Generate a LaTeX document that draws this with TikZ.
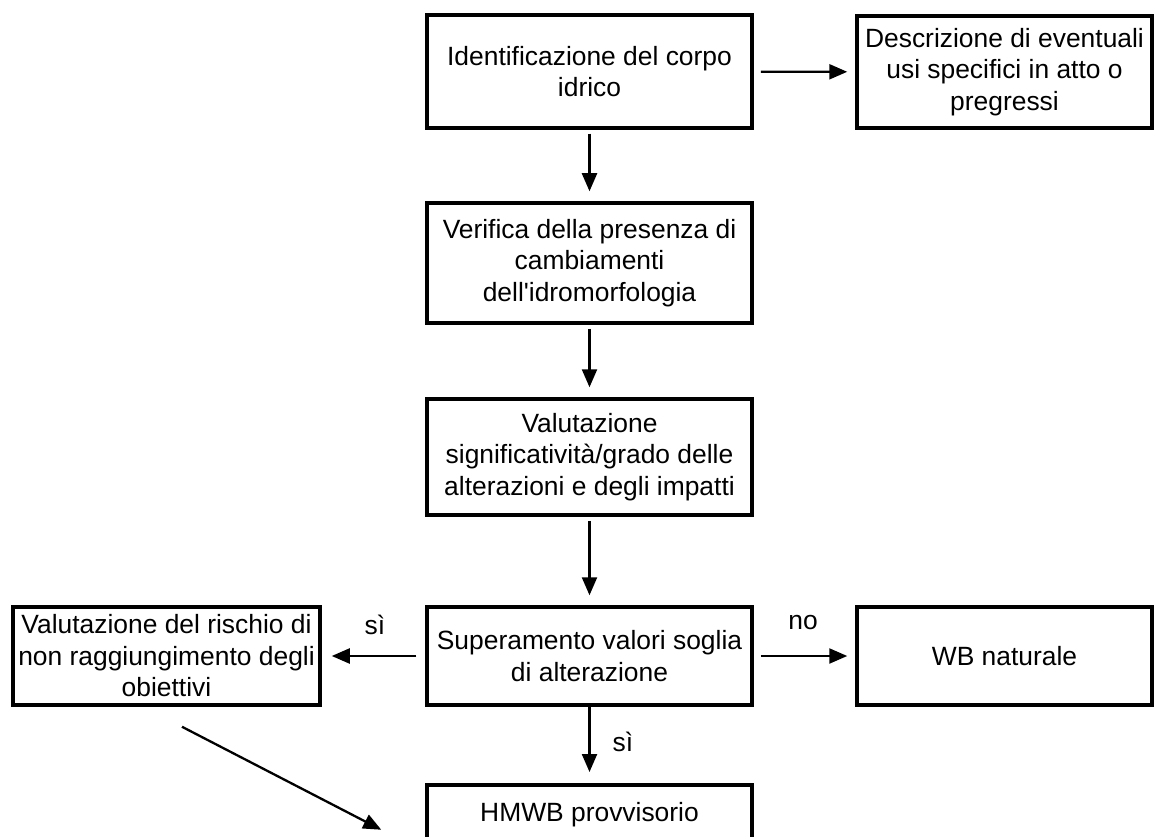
\documentclass[tikz,border=0pt]{standalone}
\usepackage{fontspec}
\setmainfont{Liberation Sans}
\usetikzlibrary{arrows.meta}
\begin{document}
\begin{tikzpicture}[x=1pt,y=-1pt,
  box/.style={draw, line width=3.5pt, align=center, inner sep=0pt,
    font=\fontsize{26.4}{31.5}\selectfont},
  lbl/.style={font=\fontsize{26.4}{31.5}\selectfont, inner sep=0pt},
  arr/.style={line width=2.3pt, -{Triangle[length=18pt,width=15pt]}},
  varr/.style={arr, shorten <=4pt, shorten >=10pt},
  harr/.style={arr, shorten <=7pt, shorten >=8pt}]
  \useasboundingbox (0,0) rectangle (1154,837);
  \clip (0,0) rectangle (1154,837);

  % process boxes
  \node[box, minimum width=325pt, minimum height=113pt] (ident) at (589.5,71.5)
    {Identificazione del corpo\\idrico};
  \node[box, minimum width=295pt, minimum height=112pt] (usi) at (1004.5,72)
    {Descrizione di eventuali\\usi specifici in atto o\\pregressi};
  \node[box, minimum width=325pt, minimum height=120pt] (verif) at (589.5,263)
    {Verifica della presenza di\\cambiamenti\\dell\textquotesingle idromorfologia};
  \node[box, minimum width=325pt, minimum height=116pt] (valut) at (589.5,457)
    {Valutazione\\significatività/grado delle\\alterazioni e degli impatti};
  \node[box, minimum width=325pt, minimum height=98pt] (soglia) at (589.5,656)
    {Superamento valori soglia\\di alterazione};
  \node[box, minimum width=295pt, minimum height=98pt] (wb) at (1004.5,656)
    {WB naturale};
  \node[box, minimum width=307pt, minimum height=98pt] (rischio) at (166.5,656)
    {Valutazione del rischio di\\non raggiungimento degli\\obiettivi};
  \node[box, minimum width=325pt, minimum height=60pt, anchor=north] (hmwb) at (589.5,783)
    {HMWB provvisorio};

  % connectors
  \draw[harr] (ident) -- (usi);
  \draw[varr] (ident) -- (verif);
  \draw[varr] (verif) -- (valut);
  \draw[varr] (valut) -- (soglia);
  \draw[arr, shorten <=9pt, shorten >=10pt] (soglia) -- (rischio);
  \draw[harr] (soglia) -- (wb);
  \draw[arr, shorten <=0pt, shorten >=11pt] (soglia) -- (hmwb);

  \coordinate (dstart) at ([shift={(15.5,20)}]rischio.south);
  \coordinate (dend) at ([shift={(-44,15)}]hmwb.west);
  \draw[arr] (dstart) -- (dend);

  % branch labels
  \node[lbl] (si1) at (375,625) {sì};
  \node[lbl] (no) at (803,623) {no};
  \node[lbl] (si2) at (623,742) {sì};
\end{tikzpicture}
\end{document}
